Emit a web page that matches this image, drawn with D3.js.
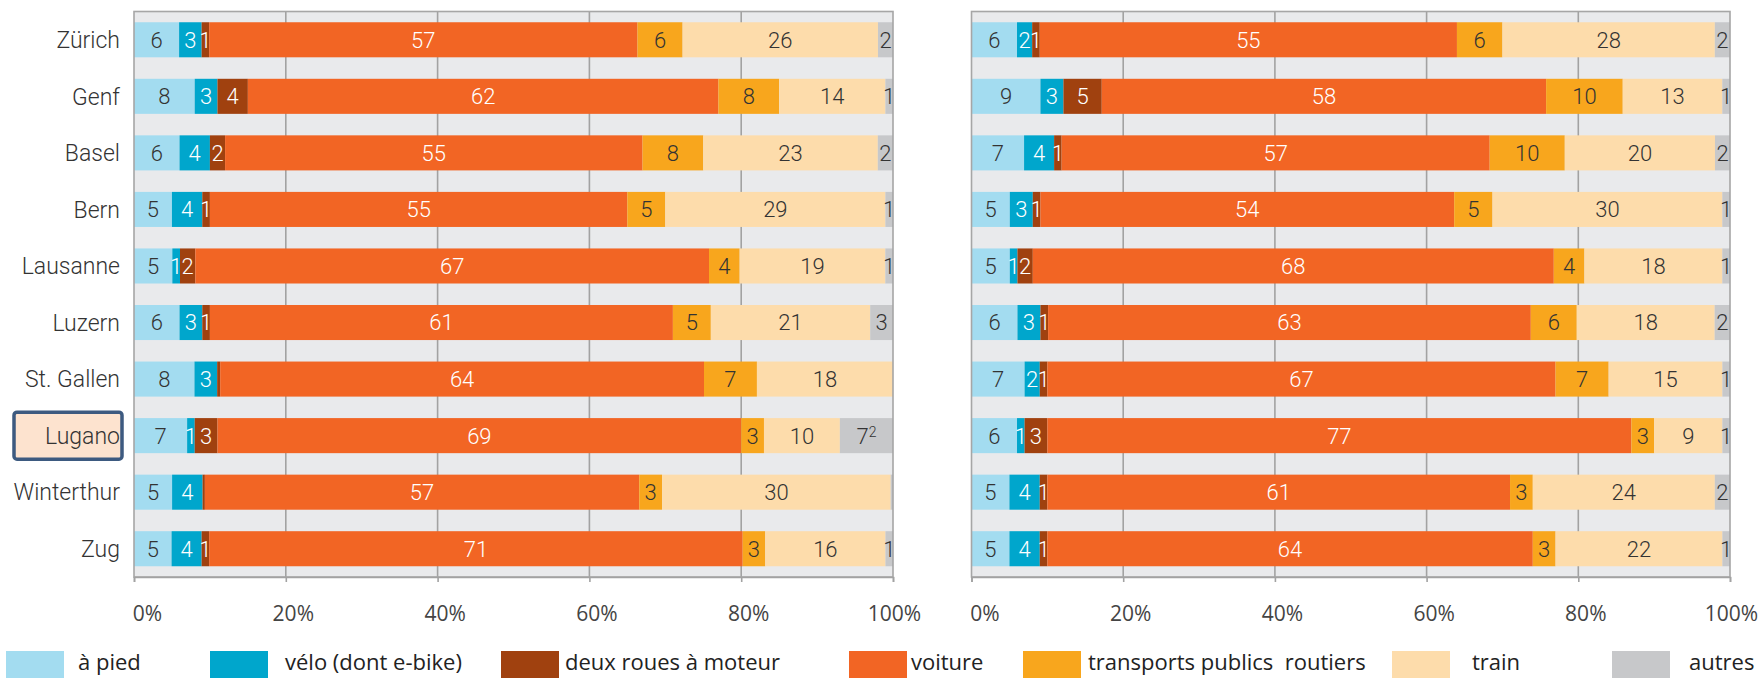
<!DOCTYPE html>
<html>
<head>
<meta charset="utf-8">
<script src="https://cdn.jsdelivr.net/npm/d3@7"></script>
<style>
  body { margin: 0; background: #fff; }
  svg { display: block; }
</style>
</head>
<body>
<svg id="chart" width="1762" height="678"></svg>
<script>
let cities = ["Zürich", "Genf", "Basel", "Bern", "Lausanne", "Luzern", "St. Gallen", "Lugano", "Winterthur", "Zug"];
let modes = ["à pied", "vélo (dont e-bike)", "deux roues à moteur", "voiture", "transports publics  routiers", "train", "autres"];
let colors = ["#a3dcf0", "#00a6cc", "#a0410f", "#f26524", "#f8a61d", "#fddcab", "#c7c8ca"];
let labelColors = ["#333", "#fff", "#fff", "#fff", "#333", "#333", "#333"];
let tickValues = [0, 0.2, 0.4, 0.6, 0.8, 1];

// left panel: one row per mode, one value per city (%)
let left = [
    [6, 8, 6, 5, 5, 6, 8, 7, 5, 5],
    [3, 3, 4, 4, 1, 3, 3, 1, 4, 4],
    [1, 4, 2, 1, 2, 1, 0.4, 3, 0.3, 1],
    [57, 62, 55, 55, 67, 61, 64, 69, 57, 71],
    [6, 8, 8, 5, 4, 5, 7, 3, 3, 3],
    [26, 14, 23, 29, 19, 21, 18, 10, 30, 16],
    [2, 1, 2, 1, 1, 3, 0, 7, 0.3, 1]
];

// right panel
let right = [
    [6, 9, 7, 5, 5, 6, 7, 6, 5, 5],
    [2, 3, 4, 3, 1, 3, 2, 1, 4, 4],
    [1, 5, 1, 1, 2, 1, 1, 3, 1, 1],
    [55, 58, 57, 54, 68, 63, 67, 77, 61, 64],
    [6, 10, 10, 5, 4, 6, 7, 3, 3, 3],
    [28, 13, 20, 30, 18, 18, 15, 9, 24, 22],
    [2, 1, 2, 1, 1, 2, 1, 1, 2, 1]
];

// footnote marks on value labels
let footnotes = [{panel: 0, city: "Lugano", mode: "autres", mark: "2"}];
let highlight = "Lugano";

let svg = d3.select("#chart");
let plotTop = 11.5, plotBottom = 577;

let y = d3.scaleBand()
    .domain(cities)
    .range([plotTop, plotBottom])
    .paddingInner(0.38)
    .paddingOuter(0.19);

let panels = [
    {data: left, x0: 134, x1: 893, names: true},
    {data: right, x0: 971.5, x1: 1730, names: false}
];

panels.forEach(function (p, pi) {
    let x = d3.scaleLinear().domain([0, 1]).range([p.x0, p.x1]);

    let rows = cities.map(function (c, i) {
        let r = {city: c};
        modes.forEach(function (m, j) { r[m] = p.data[j][i]; });
        return r;
    });
    let series = d3.stack().keys(modes).offset(d3.stackOffsetExpand)(rows);

    let g = svg.append("g");

    // plot background
    g.append("rect")
        .attr("x", p.x0).attr("y", plotTop)
        .attr("width", p.x1 - p.x0).attr("height", plotBottom - plotTop)
        .attr("fill", "#e9eaec");

    // vertical grid
    g.append("g")
        .selectAll("line")
        .data(tickValues.slice(1, -1))
        .enter().append("line")
        .attr("x1", function (d) { return x(d); })
        .attr("x2", function (d) { return x(d); })
        .attr("y1", plotTop).attr("y2", plotBottom)
        .attr("stroke", "#a2a2a2")
        .attr("stroke-width", 1.6);

    let layer = g.append("g")
        .selectAll("g")
        .data(series)
        .enter().append("g")
        .attr("fill", function (d, i) { return colors[i]; });

    layer.selectAll("rect")
        .data(function (d) { return d; })
        .enter().append("rect")
        .attr("x", function (d) { return x(d[0]); })
        .attr("y", function (d) { return y(d.data.city); })
        .attr("width", function (d) { return x(d[1]) - x(d[0]); })
        .attr("height", y.bandwidth());

    // value labels
    series.forEach(function (s, si) {
        let t = g.append("g")
            .attr("font-family", "Roboto, sans-serif")
            .attr("font-weight", 300)
            .attr("font-size", 22)
            .attr("text-anchor", "middle")
            .attr("fill", labelColors[si])
            .selectAll("text")
            .data(s.filter(function (d) { return d.data[s.key] >= 0.5; }))
            .enter().append("text")
            .attr("x", function (d) { return (x(d[0]) + x(d[1])) / 2; })
            .attr("y", function (d) { return y(d.data.city) + y.bandwidth() / 2; })
            .attr("dy", "0.36em")
            .text(function (d) { return Math.round(d.data[s.key]); });

        t.each(function (d) {
            let f = footnotes.find(function (n) {
                return n.panel === pi && n.city === d.data.city && n.mode === s.key;
            });
            if (f) {
                d3.select(this).append("tspan")
                    .attr("font-size", 14)
                    .attr("dy", "-0.5em")
                    .text(f.mark);
            }
        });
    });

    // frame
    g.append("rect")
        .attr("x", p.x0).attr("y", plotTop)
        .attr("width", p.x1 - p.x0).attr("height", plotBottom - plotTop)
        .attr("fill", "none")
        .attr("stroke", "#a6a6a6")
        .attr("stroke-width", 1.6);

    let axis = g.append("g")
        .attr("transform", "translate(0," + plotBottom + ")")
        .call(d3.axisBottom(x).tickValues(tickValues).tickSize(5).tickSizeOuter(5).tickFormat(d3.format(".0%")));
    axis.select(".domain").attr("stroke", "#a2a2a2").attr("stroke-width", 1.6);
    axis.selectAll(".tick line").attr("stroke", "#a2a2a2").attr("stroke-width", 1.6);
    axis.selectAll(".tick text")
        .attr("font-family", "'Open Sans', sans-serif")
        .attr("font-size", 21)
        .attr("fill", "#444")
        .attr("y", 44)
        .attr("dy", null)
        .attr("dx", function (d, i) { return i === 0 ? 13 : (i === tickValues.length - 1 ? 1 : 7); });

    if (p.names) {
        // highlighted city box
        g.append("rect")
            .attr("x", 14)
            .attr("y", y(highlight) + y.bandwidth() / 2 - 23.5)
            .attr("width", 108)
            .attr("height", 47)
            .attr("rx", 3)
            .attr("fill", "#fde3cf")
            .attr("stroke", "#3d5a80")
            .attr("stroke-width", 3.5);

        g.append("g")
            .selectAll("text")
            .data(cities)
            .enter().append("text")
            .attr("x", 120)
            .attr("y", function (d) { return y(d) + y.bandwidth() / 2; })
            .attr("dy", "0.36em")
            .attr("text-anchor", "end")
            .attr("font-family", "Roboto, sans-serif")
            .attr("font-weight", 300)
            .attr("font-size", 23)
            .attr("fill", "#333")
            .text(function (d) { return d; });
    }
});

// legend
let legendX = [6, 210, 501, 849, 1023, 1392, 1612];
let legendDx = [72, 75, 64, 62, 65, 80, 77];

let legend = svg.append("g")
    .selectAll("g")
    .data(modes)
    .enter().append("g")
    .attr("transform", function (d, i) { return "translate(" + legendX[i] + ",651)"; });

legend.append("rect")
    .attr("width", 58)
    .attr("height", 30)
    .attr("fill", function (d, i) { return colors[i]; });

legend.append("text")
    .attr("x", function (d, i) { return legendDx[i]; })
    .attr("y", 19)
    .attr("font-family", "'Open Sans', sans-serif")
    .attr("font-size", 22)
    .attr("fill", "#222")
    .style("white-space", "pre")
    .text(function (d) { return d; });
</script>
</body>
</html>
